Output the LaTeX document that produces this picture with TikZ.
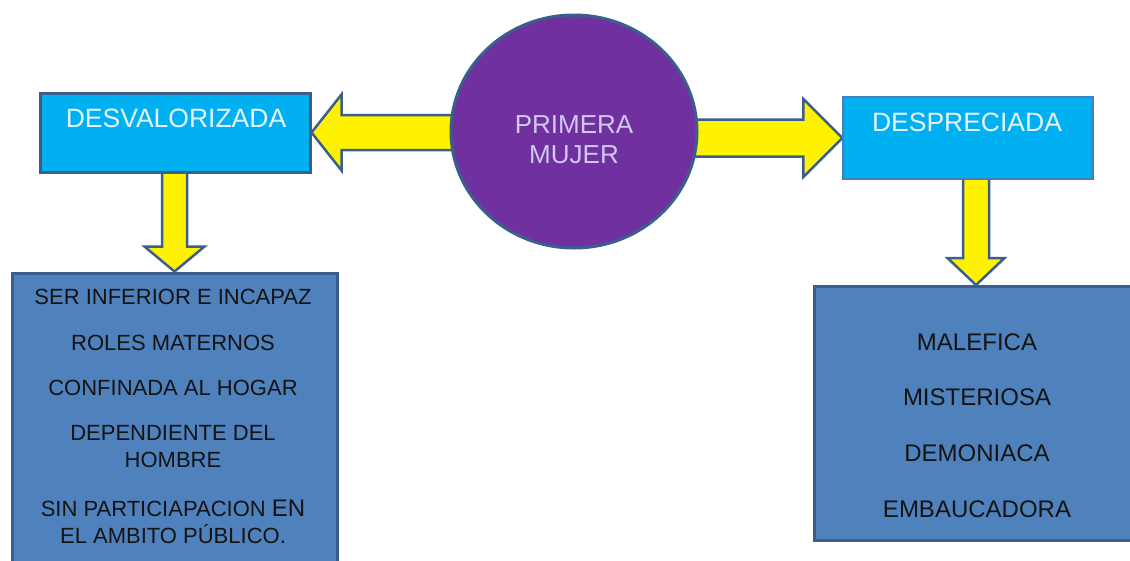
\documentclass[tikz,border=0pt]{standalone}
\usepackage{fontspec}
\setmainfont{Liberation Sans}
\usetikzlibrary{backgrounds,shapes.geometric,calc}
\definecolor{cyanbox}{HTML}{00B0F0}
\definecolor{steelbox}{HTML}{4F81BD}
\definecolor{edgeblue}{HTML}{3B5F8C}
\definecolor{lightedge}{HTML}{4A7EBB}
\definecolor{purplefill}{HTML}{7030A0}
\definecolor{lavender}{HTML}{CFC8F0}
\definecolor{paletext}{HTML}{E6F6FF}
\definecolor{inktext}{HTML}{141414}

\begin{document}
\begin{tikzpicture}[x=1pt,y=-1pt,
  headbox/.style={draw=edgeblue, fill=cyanbox, line width=3pt, inner sep=0pt},
  listbox/.style={draw=edgeblue, fill=steelbox, line width=3pt, inner sep=0pt},
  yarrow/.style={draw=edgeblue, fill=yellow, line width=2.5pt, line join=miter},
  headtxt/.style={text=paletext, inner sep=0pt, font=\fontsize{26.5}{30}\selectfont},
  listtxt/.style={text=inktext, inner sep=0pt, align=center, font=\fontsize{22}{27}\selectfont},
  righttxt/.style={text=inktext, inner sep=0pt, font=\fontsize{24}{28}\selectfont}]

\useasboundingbox (0,0) rectangle (1130,560);
\clip (0,0) rectangle (1130,560);

% central circle
\node[ellipse, draw=edgeblue, fill=purplefill, line width=3pt,
      minimum width=246pt, minimum height=233pt, inner sep=0pt] (pm) at (574,131.5) {};
\node[text=lavender, inner sep=0pt, align=center, font=\fontsize{26}{30}\selectfont]
      (pmtxt) at (574,140) {PRIMERA\\MUJER};

% upper boxes
\node[headbox, minimum width=270pt, minimum height=79pt] (dl) at (175,132.5) {};
\node[headtxt] (dltxt) at (176,118) {DESVALORIZADA};
\node[headbox, draw=lightedge, line width=1.2pt, minimum width=250pt, minimum height=82pt] (dr) at (968,138) {};
\node[headtxt] (drtxt) at (967,122) {DESPRECIADA};

% lower boxes (both run past the edges of the sheet)
\node[listbox, minimum width=325pt, minimum height=316pt] (bl) at (174.5,431) {};
\node[listtxt] (bl1) at (173,297) {SER INFERIOR E INCAPAZ};
\node[listtxt] (bl2) at (173,343) {ROLES MATERNOS};
\node[listtxt] (bl3) at (173,388) {CONFINADA AL HOGAR};
\node[listtxt] (bl4) at (173,446.5) {DEPENDIENTE DEL\\HOMBRE};
\node[listtxt] (bl5) at (173,521.5) {SIN PARTICIAPACION {\fontsize{24}{27}\selectfont EN}\\EL AMBITO PÚBLICO.};

\node[listbox, anchor=north west, minimum width=360pt, minimum height=254pt] (br) at (813,285) {};
\node[righttxt] (br1) at (977,342) {MALEFICA};
\node[righttxt] (br2) at (977,397) {MISTERIOSA};
\node[righttxt] (br3) at (977,453) {DEMONIACA};
\node[righttxt] (br4) at (977,509) {EMBAUCADORA};
\coordinate (brin) at ($(br.north west)+(163,0)$);

% block arrows, drawn behind the shapes they join
\begin{pgfonlayer}{background}
  \draw[yarrow] (dl.east) -- ++(30,-38) -- ++(0,20.5) -- ++(130,0) -- ++(0,35)
        -- ++(-130,0) -- ++(0,20.5) -- cycle;
  \draw[yarrow] (dr.west) -- ++(-39,-39) -- ++(0,20.5) -- ++(-120,0) -- ++(0,37)
        -- ++(120,0) -- ++(0,20.5) -- cycle;
  \draw[yarrow] (bl.north) -- ++(-30,-25) -- ++(17.5,0) -- ++(0,-80) -- ++(25,0)
        -- ++(0,80) -- ++(17.5,0) -- cycle;
  \draw[yarrow] (brin) -- ++(-28.5,-27) -- ++(15.5,0) -- ++(0,-85) -- ++(26,0)
        -- ++(0,85) -- ++(15.5,0) -- cycle;
\end{pgfonlayer}
\end{tikzpicture}
\end{document}
